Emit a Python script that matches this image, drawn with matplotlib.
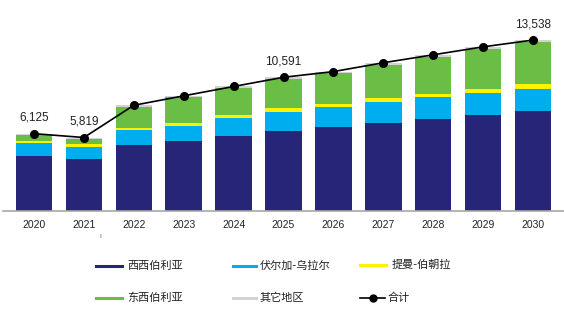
import matplotlib
matplotlib.use("Agg")
import matplotlib.pyplot as plt
from matplotlib.lines import Line2D
import numpy as np

plt.rcParams['font.family'] = ['Liberation Sans', 'Noto Sans CJK SC', 'DejaVu Sans']

years = ['2020', '2021', '2022', '2023', '2024', '2025', '2026', '2027', '2028', '2029', '2030']
west_siberia = [4360, 4100, 5230, 5520, 5950, 6370, 6690, 7000, 7300, 7590, 7880]
volga_ural = [1060, 1000, 1190, 1210, 1400, 1450, 1530, 1610, 1690, 1770, 1820]
timan_pechora = [130, 180, 185, 260, 260, 320, 260, 320, 290, 320, 370]
east_siberia = [500, 450, 1650, 2010, 2120, 2310, 2420, 2660, 2930, 3160, 3300]
other = [75, 90, 115, 120, 130, 141, 140, 150, 160, 160, 168]
total = [6125, 5819, 8370, 9120, 9860, 10591, 11040, 11740, 12370, 13000, 13538]
labeled = {0: '6,125', 1: '5,819', 5: '10,591', 10: '13,538'}

series_names = ['西西伯利亚', '伏尔加-乌拉尔', '提曼-伯朝拉', '东西伯利亚', '其它地区', '合计']
colors = ['#262577', '#00AEEF', '#FFF200', '#6ABD45', '#D3D3D6']

W, H = 564, 323
fig = plt.figure(figsize=(W / 100, H / 100), dpi=100)
ax = fig.add_axes([3 / W, (H - 211) / H, 1 - 3 / W, 211 / H])

x = np.arange(len(years))
bottom = np.zeros(len(years))
for vals, c in zip([west_siberia, volga_ural, timan_pechora, east_siberia, other], colors):
    ax.bar(x, vals, width=0.73, bottom=bottom, color=c, linewidth=0)
    bottom += np.array(vals)

ax.plot(x, total, color='black', lw=1.2, marker='o', markersize=5.5, zorder=5)
for i, s in labeled.items():
    ax.annotate(s, (x[i], total[i]), xytext=(0, 11.5), textcoords='offset points',
                ha='center', va='center', fontsize=8.5, color='#222222')

ax.set_xlim(-0.62, 10.62)
ax.set_ylim(0, 16710)
ax.set_xticks(x)
ax.set_xticklabels(years, fontsize=7.5, color='#222222')
ax.tick_params(axis='x', length=0, pad=6.5)
ax.set_yticks([])
for sp in ['left', 'right', 'top']:
    ax.spines[sp].set_visible(False)
ax.spines['bottom'].set_color('#A8A8A8')
ax.spines['bottom'].set_linewidth(1.2)

# stray marks in the reference
fig.text(100 / W, 1 - 237 / H, 'ı', fontsize=5, color='#555555', ha='center', va='center')

# legend
def fx(px):
    return px / W

def fy(py):
    return 1 - py / H

legend_items = [
    (96, 122, 127, 266, 0),
    (233, 256, 260, 266, 1),
    (360, 386, 392, 265, 2),
    (96, 122, 127, 298, 3),
    (233, 256, 260, 298, 4),
    (360, 385, 388, 298, 5),
]
for x0, x1, tx, ty, k in legend_items:
    if k < 5:
        fig.add_artist(Line2D([fx(x0), fx(x1)], [fy(ty), fy(ty)], color=colors[k],
                              lw=2.2, transform=fig.transFigure))
    else:
        fig.add_artist(Line2D([fx(x0), fx(x1)], [fy(ty), fy(ty)], color='black',
                              lw=1.2, transform=fig.transFigure))
        fig.add_artist(Line2D([fx((x0 + x1) / 2)], [fy(ty)], color='black', marker='o',
                              markersize=5, transform=fig.transFigure))
    fig.text(fx(tx), fy(ty), series_names[k], fontsize=8, ha='left', va='center',
             color='#222222', family=['Noto Sans CJK SC', 'DejaVu Sans'])

fig.savefig('out.png', dpi=100)
